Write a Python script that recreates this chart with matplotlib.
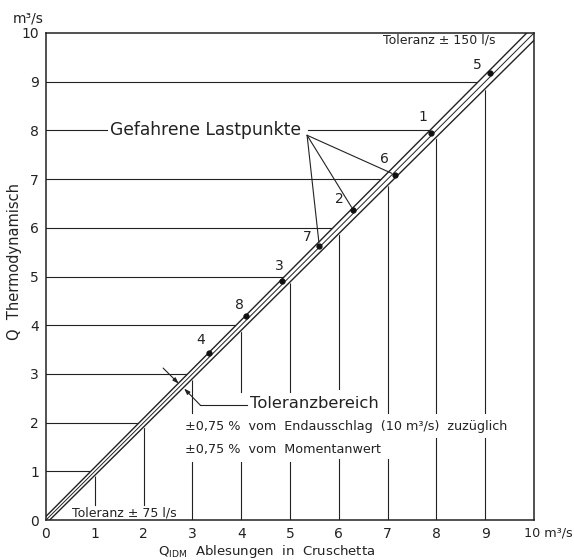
import matplotlib
matplotlib.use("Agg")
import matplotlib.pyplot as plt
import numpy as np

plt.rcParams['font.family'] = ['DejaVu Sans']
plt.rcParams['mathtext.default'] = 'regular'

# Lastpunkte (Nr, Q IDM, Q thermodynamisch) in m3/s
point_names = ['1', '2', '3', '4', '5', '6', '7', '8']
q_idm = [7.88, 6.30, 4.84, 3.35, 9.10, 7.15, 5.60, 4.10]
q_thermo = [7.95, 6.36, 4.90, 3.43, 9.18, 7.09, 5.63, 4.18]
label_offsets = [(-8, 16), (-14, 11), (-3, 15), (-9, 13), (-13, 8), (-10, 16), (-12, 9), (-7, 11)]

# Toleranz: 0,75 % vom Endausschlag (10 m3/s) + 0,75 % vom Momentanwert
full_scale = 10.0
tol_pct = 0.0075
tol_labels = ['Toleranz ± 75 l/s', 'Toleranz ± 150 l/s']

x_ticks = list(range(0, 10))
y_ticks = list(range(0, 11))

fig = plt.figure(figsize=(5.74, 5.6), dpi=100)
ax = fig.add_axes([46 / 574, 40 / 560, 488 / 574, 487 / 560])
ax.set_xlim(0, 10)
ax.set_ylim(0, 10)
lc = '#222222'

def tol(x):
    return tol_pct * full_scale + tol_pct * np.asarray(x)

# Hilfslinien (with gaps where text sits)
vgaps = {1: [(0, 0.3)], 2: [(0, 0.3)], 3: [(1.2, 2.2)], 4: [(1.2, 2.62)], 5: [(1.2, 2.62)],
         6: [(1.25, 2.68)], 7: [(1.25, 2.2)], 8: [(1.68, 2.2)], 9: [(1.68, 2.2)]}
hgaps = {8: [(1.25, 5.37)]}

def segments(end, gaps):
    segs, start = [], 0
    for g0, g1 in gaps:
        if g0 > start:
            segs.append((start, g0))
        start = g1
    segs.append((start, end))
    return segs

for k in range(1, 10):
    for a, b in segments(k, vgaps.get(k, [])):
        ax.plot([k, k], [a, b], color=lc, lw=0.8, zorder=1)
    for a, b in segments(k, hgaps.get(k, [])):
        ax.plot([a, b], [k, k], color=lc, lw=0.8, zorder=1)

# Toleranzband
xb = np.linspace(0, 10.5, 200)
ax.fill_between(xb, xb - tol(xb), xb + tol(xb), color='white', zorder=2)
ax.plot(xb, xb + tol(xb), color=lc, lw=1.0, zorder=3)
ax.plot(xb, xb - tol(xb), color=lc, lw=1.0, zorder=3)
ax.plot(xb, xb, color=lc, lw=0.7, zorder=3)

# Punkte
ax.plot(q_idm, q_thermo, 'o', color='#111111', ms=3.5, zorder=4)
for name, x, y, off in zip(point_names, q_idm, q_thermo, label_offsets):
    ax.annotate(name, (x, y), xytext=off, textcoords='offset pixels',
                ha='center', va='center', fontsize=10, color=lc)

# Gefahrene Lastpunkte
ax.text(1.31, 8.0, 'Gefahrene Lastpunkte', fontsize=12.3, va='center', ha='left', color=lc)
origin = (5.35, 7.9)
for i in [5, 1, 6]:
    ax.annotate('', xy=(q_idm[i], q_thermo[i]), xytext=origin,
                arrowprops=dict(arrowstyle='-', color=lc, lw=0.8, shrinkA=0, shrinkB=2.5), zorder=3)

# Toleranzbereich
ax.annotate('', xy=(2.72, 2.80), xytext=(2.40, 3.12),
            arrowprops=dict(arrowstyle='-|>,head_length=0.35,head_width=0.12', color=lc, lw=0.8,
                            shrinkA=0, shrinkB=0), zorder=5)
ax.annotate('', xy=(2.83, 2.70), xytext=(3.16, 2.36),
            arrowprops=dict(arrowstyle='-|>,head_length=0.35,head_width=0.12', color=lc, lw=0.8,
                            shrinkA=0, shrinkB=0), zorder=5)
ax.plot([3.16, 4.12], [2.36, 2.36], color=lc, lw=0.8, zorder=5)
ax.text(4.18, 2.40, 'Toleranzbereich', fontsize=11.8, va='center', ha='left', color=lc)
ax.text(2.85, 1.91, '±0,75 %  vom  Endausschlag  (10 m³/s)  zuzüglich', fontsize=9.2, va='center', ha='left', color=lc)
ax.text(2.85, 1.44, '±0,75 %  vom  Momentanwert', fontsize=9.2, va='center', ha='left', color=lc)

ax.text(0.53, 0.15, tol_labels[0], fontsize=9, va='center', ha='left', color=lc)
ax.text(6.9, 9.86, tol_labels[1], fontsize=9, va='center', ha='left', color=lc)

# Achsen
ax.set_xticks(x_ticks)
ax.set_yticks(y_ticks)
ax.tick_params(length=0, labelsize=10, colors=lc, pad=5)
ax.text(9.8, -0.27, '10 m³/s', fontsize=9.2, va='center', ha='left', color=lc, clip_on=False)
for s in ax.spines.values():
    s.set_color(lc)
    s.set_linewidth(1.1)

fig.text(13 / 574, 1 - 18 / 560, 'm³/s', fontsize=10, va='center', ha='left', color=lc)
fig.text(15 / 574, 1 - 262 / 560, 'Q  Thermodynamisch', rotation=90, fontsize=10.5,
         va='center', ha='center', color=lc)
fig.text(267 / 574, 1 - 551 / 560, r'Q$_{IDM}$  Ablesungen  in  Cruschetta', fontsize=9.5,
         va='center', ha='center', color=lc)

fig.savefig('out.png', dpi=100)
